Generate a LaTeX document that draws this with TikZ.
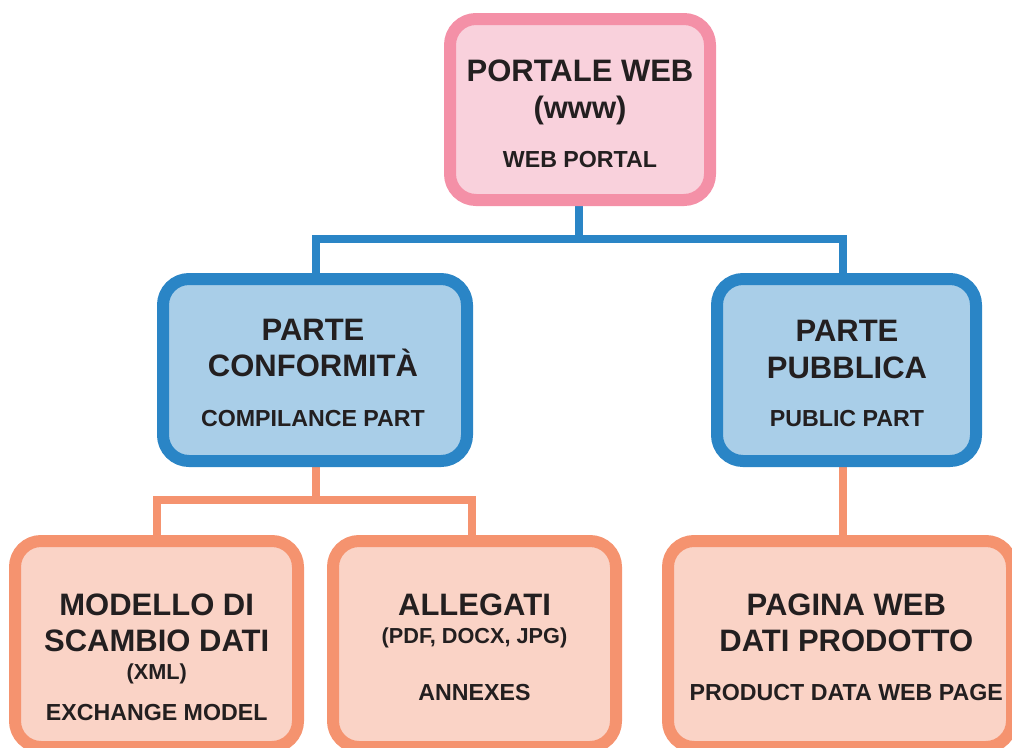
\documentclass[tikz,border=0pt]{standalone}
\usepackage{fontspec}
\setmainfont{Liberation Sans}
\usetikzlibrary{backgrounds}
\begin{document}
\begin{tikzpicture}[x=1pt,y=-1pt,
  boxbase/.style={rectangle,rounded corners=26pt,line width=12pt,inner sep=0pt,outer sep=0pt},
  pinkbox/.style={boxbase,draw=pinkB,fill=pinkF},
  bluebox/.style={boxbase,draw=blueB,fill=blueF},
  orangebox/.style={boxbase,draw=orangeB,fill=orangeF},
  bluecon/.style={draw=blueB,line width=7.5pt},
  orangecon/.style={draw=orangeB,line width=7.5pt},
  big/.style={anchor=base,inner sep=0pt,text=txt,font=\bfseries\fontsize{31}{37}\selectfont},
  mid/.style={anchor=base,inner sep=0pt,text=txt,font=\bfseries\fontsize{21.7}{26}\selectfont},
  small/.style={anchor=base,inner sep=0pt,text=txt,font=\bfseries\fontsize{23.2}{28}\selectfont}
]
\definecolor{pinkB}{HTML}{F490A7}
\definecolor{pinkF}{HTML}{F9D1DC}
\definecolor{blueB}{HTML}{2A85C6}
\definecolor{blueF}{HTML}{A9CEE8}
\definecolor{orangeB}{HTML}{F5936F}
\definecolor{orangeF}{HTML}{FAD3C6}
\definecolor{txt}{HTML}{231F20}
\useasboundingbox (0,0) rectangle (1012,747);
\clip (0,0) rectangle (1012,747);
% boxes
\node[pinkbox,minimum width=260pt,minimum height=181pt] (top) at (580,109.5) {};
\node[bluebox,minimum width=304pt,minimum height=182pt] (bl) at (315,370) {};
\node[bluebox,minimum width=259pt,minimum height=182pt] (br) at (846.5,370) {};
\node[orangebox,minimum width=283pt,minimum height=206pt] (ml) at (156.5,644) {};
\node[orangebox,minimum width=283pt,minimum height=206pt] (mm) at (474.5,644) {};
\node[orangebox,minimum width=344pt,minimum height=206pt] (mr) at (840,644) {};
\coordinate (bj) at (579,239);
\coordinate (bx) at (316,0);
\coordinate (oj) at (316,500);
\coordinate (rc) at (843,0);
\coordinate (lx) at (157,0);
\coordinate (mx) at (472,0);
% connectors behind boxes
\begin{scope}[on background layer]
\draw[bluecon] (top.south -| bj) -- (bj);
\draw[bluecon] (bx |- bl.north) |- (bj) -| (rc |- br.north);
\draw[orangecon] (bx |- bl.south) -- (oj);
\draw[orangecon] (lx |- ml.north) |- (oj) -| (mx |- mm.north);
\draw[orangecon] (rc |- br.south) -- (rc |- mr.north);
\end{scope}
% texts
\node[big] (t1) at (580,81.7) {PORTALE WEB};
\node[big] (t2) at (580,118.5) {(www)};
\node[small] (t3) at (580,167.7) {WEB PORTAL};
\node[big] (t4) at (313,340) {PARTE};
\node[big] (t5) at (313,376.7) {CONFORMITÀ};
\node[small] (t6) at (313,426.7) {COMPILANCE PART};
\node[big] (t7) at (847,341.7) {PARTE};
\node[big] (t8) at (847,378.3) {PUBBLICA};
\node[small] (t9) at (847,426.7) {PUBLIC PART};
\node[big] (t10) at (156.7,615) {MODELLO DI};
\node[big] (t11) at (156.7,651.7) {SCAMBIO DATI};
\node[mid] (t12) at (156.7,679.3) {(XML)};
\node[small] (t13) at (156.7,720.5) {EXCHANGE MODEL};
\node[big] (t14) at (474.5,615) {ALLEGATI};
\node[mid] (t15) at (474.5,643.3) {(PDF, DOCX, JPG)};
\node[small] (t16) at (474.5,700) {ANNEXES};
\node[big] (t17) at (846.3,615) {PAGINA WEB};
\node[big] (t18) at (846.3,651.7) {DATI PRODOTTO};
\node[small] (t19) at (846.3,700) {PRODUCT DATA WEB PAGE};
\end{tikzpicture}
\end{document}
